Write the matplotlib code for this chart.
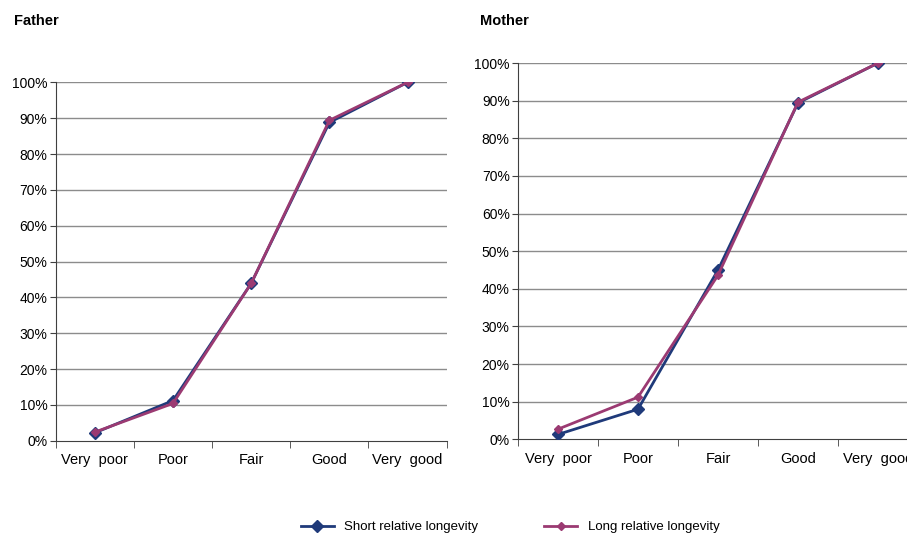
import numpy as np
import matplotlib.pyplot as plt
from matplotlib.ticker import FixedLocator, NullFormatter

plt.rcParams['font.family'] = ['Liberation Sans', 'DejaVu Sans']

# Categories and values (% cumulative)
categories = ['Very  poor', 'Poor', 'Fair', 'Good', 'Very  good']
father_short = [2.2, 11.2, 43.9, 88.8, 100]
father_long = [2.4, 10.4, 43.9, 89.4, 100]
mother_short = [1.3, 8.0, 45.0, 89.4, 100]
mother_long = [2.7, 11.2, 43.6, 89.6, 100]
yticks = list(range(0, 101, 10))

c_short = '#1f3a7a'
c_long = '#9b3a72'

fig = plt.figure(figsize=(9.07, 5.37), dpi=100)
ax1 = fig.add_axes([0.0614, 0.1793, 0.4311, 0.6674])
ax2 = fig.add_axes([0.5711, 0.1819, 0.441, 0.7007])

x = np.arange(len(categories)) + 0.5


def style(ax, short, long_, title, tx):
    for y in yticks[1:]:
        ax.axhline(y, color='#8c8c8c', lw=1, zorder=1)
    ax.plot(x, short, color=c_short, lw=2, marker='D', ms=6.5, zorder=3,
            label='Short relative longevity')
    ax.plot(x, long_, color=c_long, lw=2, marker='D', ms=4.5, zorder=4,
            label='Long relative longevity')
    ax.set_xlim(0, len(categories))
    ax.set_ylim(0, 100)
    ax.set_yticks(yticks)
    ax.set_yticklabels([f'{v}%' for v in yticks])
    ax.xaxis.set_major_locator(FixedLocator(x))
    ax.set_xticklabels(categories)
    ax.xaxis.set_minor_locator(FixedLocator(np.arange(len(categories) + 1)))
    ax.xaxis.set_minor_formatter(NullFormatter())
    ax.tick_params(axis='x', which='major', length=0, pad=9, labelsize=10.5)
    ax.tick_params(axis='x', which='minor', length=5, direction='out', color='#404040')
    ax.tick_params(axis='y', length=4, direction='out', labelsize=10, pad=2, color='#404040')
    for s in ['top', 'right']:
        ax.spines[s].set_visible(False)
    for s in ['left', 'bottom']:
        ax.spines[s].set_color('#404040')
    fig.text(tx, 1 - 21 / 537, title, fontsize=10.5, fontweight='bold', va='center', ha='left')


style(ax1, father_short, father_long, 'Father', 14 / 907)
style(ax2, mother_short, mother_long, 'Mother', 480 / 907)

h, l = ax1.get_legend_handles_labels()
fig.legend(h, l, loc='center', bbox_to_anchor=(510 / 907, 1 - 527 / 537), ncol=2,
           frameon=False, fontsize=9.5, columnspacing=5, handlelength=2.5)

fig.savefig('out.png', dpi=100)
